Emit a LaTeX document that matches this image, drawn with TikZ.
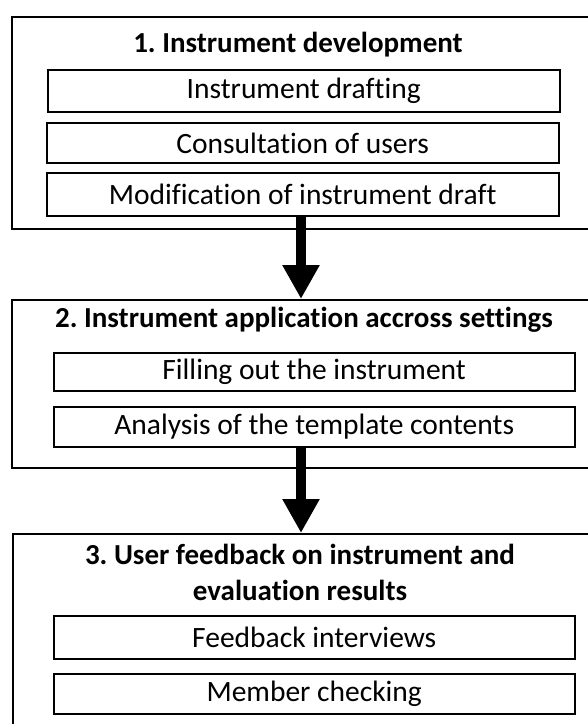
\documentclass[tikz,border=0pt]{standalone}
\usepackage{fontspec}
\setmainfont{Carlito}[Ligatures=NoCommon]
\usetikzlibrary{arrows.meta}
\frenchspacing
\begin{document}
\begin{tikzpicture}[x=1pt,y=-1pt,
  stage/.style={draw=black,line width=2pt,anchor=north west,inner sep=0pt},
  task/.style={draw=black,line width=2.4pt,anchor=north west,inner sep=0pt,
    font=\fontsize{29.5}{34}\selectfont},
  heading/.style={inner sep=0pt,align=center,font=\fontsize{29}{36}\selectfont\bfseries},
  flow/.style={line width=10pt,-{Triangle[width=35pt,length=34pt]}}]
\useasboundingbox (0,0) rectangle (588,724);
% stage 1
\node[stage,minimum width=600pt,minimum height=212.5pt] (b1) at (10.5,15.5) {};
\node[heading] (t1) at (298,45) {1. Instrument development};
\node[task,minimum width=512pt,minimum height=42pt] (i11) at (46.5,69) {Instrument drafting};
\node[task,minimum width=512pt,minimum height=40pt] (i12) at (45.5,122) {Consultation of users};
\node[task,minimum width=512pt,minimum height=43pt] (i13) at (45.5,172) {Modification of instrument draft};
% stage 2
\node[stage,minimum width=600pt,minimum height=168pt] (b2) at (10.5,299) {};
\node[heading] (t2) at (304,320) {2. Instrument application accross settings};
\node[task,minimum width=521pt,minimum height=38.5pt] (i21) at (52.5,351.5) {Filling out the instrument};
\node[task,minimum width=521pt,minimum height=40pt] (i22) at (52.5,405.5) {Analysis of the template contents};
% stage 3
\node[stage,minimum width=600pt,minimum height=220pt] (b3) at (12,533) {};
\node[heading] (t3) at (300,572.5) {3. User feedback on instrument and\\evaluation results};
\node[task,minimum width=521pt,minimum height=43pt] (i31) at (52.5,615) {Feedback interviews};
\node[task,minimum width=521pt,minimum height=40pt] (i32) at (52.5,673) {Member checking};
% arrows between stages
\coordinate (ax) at (301,0);
\draw[flow] (i13.south -| ax) -- (b2.north -| ax);
\draw[flow] (i22.south -| ax) -- (b3.north -| ax);
\end{tikzpicture}
\end{document}
